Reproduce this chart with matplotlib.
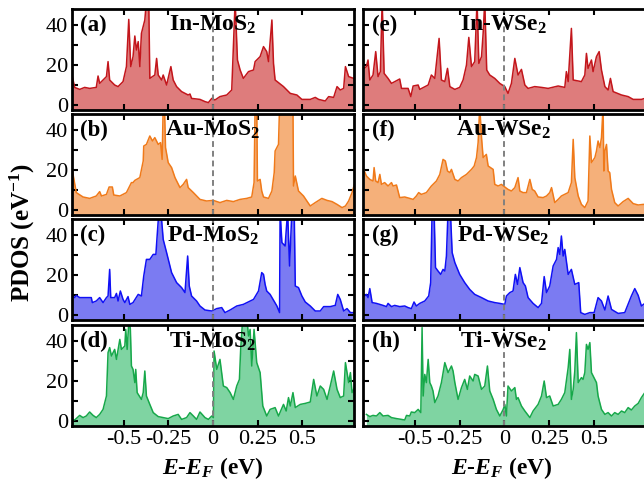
import matplotlib
matplotlib.use("Agg")
import matplotlib.pyplot as plt
from matplotlib.ticker import MultipleLocator, FixedLocator

plt.rcParams['font.family'] = ['Liberation Serif', 'DejaVu Serif']
plt.rcParams['mathtext.fontset'] = 'custom'
plt.rcParams['mathtext.rm'] = 'Liberation Serif'
plt.rcParams['mathtext.it'] = 'Liberation Serif:italic'
plt.rcParams['mathtext.bf'] = 'Liberation Serif:bold'
plt.rcParams['mathtext.bfit'] = 'Liberation Serif:italic:bold'

# ---------------- data (E - E_F in eV, PDOS in eV^-1) ----------------
x_a = [-0.788,-0.775,-0.747,-0.719,-0.691,-0.654,-0.644,-0.635,-0.616,-0.597,-0.588,-0.579,-0.551,-0.532,-0.504,-0.485,-0.472,-0.461,-0.448,-0.438,-0.429,-0.419,-0.41,-0.401,-0.382,-0.373,-0.36,-0.354,-0.326,-0.316,-0.307,-0.288,-0.279,-0.26,-0.236,-0.223,-0.204,-0.176,-0.139,-0.129,-0.12,-0.073,-0.045,-0.026,-0.007,0.011,0.039,0.077,0.105,0.124,0.137,0.152,0.17,0.199,0.227,0.236,0.264,0.283,0.301,0.311,0.33,0.339,0.348,0.395,0.433,0.47,0.498,0.545,0.573,0.592,0.629,0.648,0.676,0.695,0.713,0.732,0.742,0.76,0.788,0.807]
y_a = [14.2,8.8,7.8,8.8,8.3,8.8,14.5,10.8,12.5,14.2,21.7,12.5,10,9.2,11.7,19.2,42.8,19.2,24.2,34.5,27.5,31.7,19.2,35.8,42.5,52,52,13.3,15,23.3,15,12.5,15,10,19.2,12.5,9.2,6.7,5,5.5,3.3,2.8,1.7,1.2,3.3,2.5,4.2,5,7.5,52,22.5,17.5,13.3,16.7,17.5,21.7,24.2,29.2,26.7,21.7,42.5,20.8,12.5,9.2,5.8,5,2.8,2.8,3.8,2.8,2,4.2,3.8,9.2,7.5,8.3,19.2,14.2,13.3,13.8]

x_b = [-0.788,-0.781,-0.766,-0.728,-0.691,-0.654,-0.635,-0.625,-0.597,-0.582,-0.564,-0.556,-0.522,-0.485,-0.457,-0.448,-0.438,-0.41,-0.391,-0.388,-0.373,-0.354,-0.339,-0.326,-0.307,-0.294,-0.285,-0.279,-0.272,-0.266,-0.251,-0.232,-0.213,-0.185,-0.167,-0.148,-0.139,-0.11,-0.073,-0.036,0.002,0.039,0.077,0.114,0.152,0.189,0.217,0.23,0.236,0.245,0.249,0.264,0.273,0.283,0.311,0.33,0.343,0.348,0.367,0.373,0.448,0.451,0.461,0.479,0.507,0.545,0.573,0.61,0.639,0.667,0.695,0.723,0.742,0.76,0.779,0.798]
y_b = [19.8,16.2,8.7,6.5,5.8,7,9.2,7,7.8,11.5,11.5,7.5,7,8.7,13.7,13.7,14.8,16.2,24.5,32,32.8,37,34.5,36.2,32.8,33.7,25.3,52,52,31.2,23.7,21.2,16.2,11.2,12.8,15.3,11.2,8.7,5.3,4.5,4.8,3.7,4.8,4.2,5.3,5.8,6.5,13.7,52,52,14.5,15.3,9.5,6.5,5.8,9.5,18.7,29.5,32.8,52,52,12,17,9.5,7,2,3.7,5.8,4.8,4.2,2.8,1.2,2,4.5,8.7,14.5]

x_c = [-0.788,-0.775,-0.766,-0.747,-0.71,-0.682,-0.676,-0.654,-0.635,-0.616,-0.597,-0.588,-0.579,-0.573,-0.551,-0.541,-0.532,-0.519,-0.504,-0.494,-0.476,-0.466,-0.448,-0.419,-0.401,-0.388,-0.373,-0.354,-0.335,-0.32,-0.313,-0.303,-0.292,-0.279,-0.26,-0.232,-0.204,-0.176,-0.157,-0.142,-0.133,-0.12,-0.092,-0.073,-0.045,-0.007,0.021,0.049,0.067,0.096,0.133,0.17,0.227,0.255,0.273,0.283,0.292,0.301,0.32,0.358,0.373,0.376,0.386,0.404,0.418,0.429,0.442,0.455,0.461,0.479,0.498,0.517,0.545,0.573,0.601,0.62,0.657,0.685,0.699,0.713,0.732,0.751,0.77,0.798]
y_c = [9.8,8.7,9.8,8.7,8.7,8.7,6.2,7,8.7,6.2,8.7,9.5,22.8,8.7,8.7,10.8,7,12,7.8,6.2,9.2,5.3,6.2,10.3,9.5,19.5,27.8,27.8,30.3,30.3,39.5,52,52,37.8,31.2,21.2,16.2,13.7,11.2,29.5,14.5,9.5,7,4.5,2.5,2,3.2,3.7,1.2,2.5,4.5,5.3,7.8,12,21.2,20.3,15.3,12,10.3,4.5,1.2,52,36.2,34.5,52,24.5,52,52,14.5,13.7,9.5,6.5,4.5,2,2,4.2,4.2,4.8,10.3,7.8,2,3.2,1.2,1.2]

x_d = [-0.788,-0.775,-0.747,-0.728,-0.71,-0.691,-0.672,-0.654,-0.635,-0.616,-0.597,-0.588,-0.579,-0.569,-0.551,-0.541,-0.522,-0.513,-0.494,-0.489,-0.481,-0.47,-0.463,-0.457,-0.448,-0.438,-0.433,-0.425,-0.401,-0.391,-0.382,-0.373,-0.354,-0.335,-0.307,-0.279,-0.251,-0.223,-0.195,-0.176,-0.148,-0.129,-0.11,-0.092,-0.073,-0.045,-0.026,-0.007,0.002,0.006,0.021,0.039,0.058,0.077,0.096,0.114,0.133,0.148,0.155,0.167,0.189,0.199,0.208,0.217,0.23,0.245,0.264,0.279,0.301,0.32,0.348,0.367,0.395,0.41,0.423,0.433,0.448,0.461,0.489,0.517,0.545,0.564,0.582,0.601,0.62,0.639,0.657,0.676,0.695,0.713,0.732,0.742,0.76,0.77,0.779,0.798]
y_d = [0.8,0.5,2.8,1.7,2.5,4.5,2.8,1.7,3.3,5.8,12.5,34.2,36.7,32.5,35.8,30.8,40.8,35.8,37.5,45.8,35.8,52,45.8,27.5,25.8,19.2,25.8,14.2,10.8,14.2,25,12.5,8.3,4.2,2.2,1.7,1.2,2.5,3.3,0.8,1.7,4.2,2.5,0.8,4.5,1.7,0.8,2.5,1.7,35,25.8,30.8,17.5,16.7,14.2,10.8,17.5,20.8,35.8,52,52,42.5,45.8,27.5,45.8,29.2,24.2,7.5,2.5,5.8,6.7,2.5,8.3,5,11.7,7.5,14.2,6.7,8.3,8.8,9.5,20.8,12.5,17.5,15.8,10.8,17.5,25,15.8,11.7,12.5,29.2,19.2,24.2,14.2,17.5]

x_e = [-0.784,-0.771,-0.762,-0.752,-0.734,-0.719,-0.706,-0.693,-0.683,-0.672,-0.65,-0.631,-0.585,-0.575,-0.538,-0.523,-0.51,-0.482,-0.473,-0.426,-0.408,-0.389,-0.365,-0.352,-0.333,-0.318,-0.305,-0.277,-0.25,-0.231,-0.212,-0.199,-0.184,-0.166,-0.153,-0.143,-0.128,-0.119,-0.11,-0.099,-0.082,-0.054,-0.026,0.002,0.02,0.039,0.058,0.076,0.095,0.114,0.132,0.169,0.207,0.244,0.3,0.337,0.346,0.356,0.374,0.384,0.43,0.449,0.458,0.467,0.486,0.495,0.514,0.529,0.542,0.561,0.579,0.592,0.607,0.654,0.691,0.719,0.765,0.784,0.805]
y_e = [18.3,19.2,22.5,12.5,15,26.7,14.2,16.7,52,15.8,13.3,10.8,13,8.3,8.3,4.2,9.5,10,7.8,10,15,13.3,33.3,12.5,11.7,18.3,9.2,7.8,8.8,12.5,20,33.8,19.2,21.7,52,20.8,24.2,35.8,52,17.5,15,13.3,10.8,9.2,5.8,10.8,23.3,15,17.8,10,8.3,9.2,8.8,8.3,9.5,8.8,16.7,11.7,38.3,12.5,11.7,15,25.8,18.3,22.5,16.7,24.2,26.7,17.5,9.2,7.5,13.3,6.7,5,4.2,2.8,2.8,3.3,3.3]

x_f = [-0.784,-0.771,-0.752,-0.734,-0.728,-0.719,-0.706,-0.696,-0.687,-0.669,-0.65,-0.631,-0.622,-0.603,-0.585,-0.557,-0.529,-0.51,-0.492,-0.479,-0.464,-0.436,-0.408,-0.38,-0.361,-0.343,-0.33,-0.318,-0.305,-0.296,-0.277,-0.259,-0.24,-0.212,-0.184,-0.169,-0.156,-0.147,-0.138,-0.128,-0.119,-0.101,-0.091,-0.063,-0.054,-0.035,-0.017,0.002,0.02,0.039,0.058,0.076,0.086,0.104,0.123,0.142,0.155,0.169,0.188,0.216,0.235,0.253,0.263,0.281,0.3,0.318,0.356,0.374,0.384,0.393,0.412,0.43,0.449,0.467,0.477,0.486,0.505,0.514,0.523,0.533,0.542,0.551,0.555,0.561,0.57,0.579,0.588,0.598,0.616,0.635,0.663,0.691,0.719,0.747,0.775,0.805]
y_f = [19.8,17,15.3,14.5,21.2,14.5,13.7,17.8,12.8,13.7,12,13.7,12,12.5,6.2,6.5,5.8,5.3,7,8.7,7.8,8.7,12,14.5,17.8,25.3,24.5,19.5,18.7,20.3,15.3,14.5,16.2,17.8,20.3,22,26.2,33.7,52,36.2,26.2,27.8,22,20.3,12.8,12,12.8,11.5,10.3,9.5,11.2,16.2,9.5,8.7,8.7,15.3,10.3,9.5,6.5,6.2,7,8.7,11.2,3.7,5.3,7,8.7,13.7,35.3,16.2,7,2.8,1.2,4.5,37,23.7,26.2,29.5,34.5,31.2,36.2,52,19.5,29.5,32.8,19.5,18.7,10.3,3.7,2,4.2,5.8,3.2,2.5,2.8,2.8]

x_g = [-0.784,-0.771,-0.762,-0.752,-0.739,-0.715,-0.696,-0.678,-0.659,-0.65,-0.631,-0.613,-0.585,-0.557,-0.538,-0.52,-0.505,-0.492,-0.473,-0.445,-0.423,-0.412,-0.404,-0.393,-0.385,-0.371,-0.356,-0.343,-0.333,-0.324,-0.315,-0.302,-0.292,-0.277,-0.25,-0.222,-0.194,-0.166,-0.128,-0.091,-0.054,-0.026,0.002,0.011,0.03,0.048,0.061,0.073,0.086,0.104,0.117,0.132,0.16,0.188,0.207,0.222,0.235,0.253,0.272,0.291,0.3,0.309,0.318,0.328,0.337,0.356,0.374,0.393,0.415,0.426,0.449,0.477,0.501,0.523,0.542,0.561,0.579,0.598,0.635,0.672,0.709,0.728,0.747,0.765,0.784,0.805]
y_g = [9.5,10.3,8.7,13.2,6.2,5.8,5.3,4.8,4.2,5.8,4.2,4.8,4.2,4.5,3.7,3.2,6.5,4.5,5.8,7,9.5,16.2,52,52,23.7,22,20.3,22.8,22,29.5,52,52,31.2,26.2,20.3,16.2,12.8,10.3,8.7,7,6.2,5.8,5.3,9.5,11.2,12,20.3,15.3,23.7,16.2,14.5,8.7,5.8,3.7,5.8,19.2,11.2,14.5,24.5,27.8,33.7,30.3,39.5,29.5,32.8,20.3,22.8,15.3,16.2,1.2,0.3,1.2,1.2,8.7,7,2.5,9.5,2.8,0.8,1.2,9.5,13.2,9.8,4.5,5.8,5.8]

x_h = [-0.771,-0.752,-0.734,-0.715,-0.696,-0.678,-0.65,-0.631,-0.603,-0.575,-0.557,-0.547,-0.529,-0.52,-0.501,-0.482,-0.467,-0.46,-0.454,-0.445,-0.436,-0.426,-0.417,-0.408,-0.399,-0.389,-0.371,-0.352,-0.333,-0.315,-0.296,-0.287,-0.277,-0.259,-0.24,-0.222,-0.207,-0.194,-0.175,-0.166,-0.147,-0.128,-0.11,-0.095,-0.082,-0.063,-0.045,-0.026,-0.007,0.002,0.011,0.02,0.039,0.058,0.067,0.076,0.095,0.114,0.142,0.16,0.188,0.207,0.222,0.235,0.253,0.272,0.3,0.318,0.337,0.356,0.365,0.374,0.384,0.393,0.402,0.412,0.43,0.439,0.449,0.458,0.467,0.477,0.486,0.505,0.514,0.523,0.542,0.561,0.579,0.598,0.616,0.635,0.654,0.672,0.691,0.709,0.728,0.747,0.765,0.784,0.805]
y_h = [3.3,2.2,2.8,2.5,4.2,2.5,2.8,1.7,1.2,0.8,0.5,2.8,2.5,4.5,4.2,5.8,4.2,46.7,12.5,23.3,19.2,30.8,19.2,17.5,15,9.2,12.5,19.2,29.2,24.2,27.5,25,19.2,10.8,16.7,20.8,15.8,22.5,20,23.3,22.5,15.8,17.5,27.5,15,10.8,5.8,2.5,5.8,8.3,2.5,17.5,15,16.7,10.8,11.7,7.5,5,1.7,5,8.3,12.5,20,11.7,12.5,7.5,8.3,10.8,14.2,26.7,35.8,10.8,15.8,25,44.2,19.2,21.7,20.8,24.2,38.3,35.8,39.2,24.2,20.8,19.2,12.5,5.8,3.3,4.2,2.5,4.2,3.3,5,4.2,6.7,5.5,7.5,8.8,11.7,14.2,15.0]

panel_letters = ['(a)', '(b)', '(c)', '(d)', '(e)', '(f)', '(g)', '(h)']
panel_names = [r'In-MoS$_\mathbf{2}$', r'Au-MoS$_\mathbf{2}$', r'Pd-MoS$_\mathbf{2}$', r'Ti-MoS$_\mathbf{2}$',
               r'In-WSe$_\mathbf{2}$', r'Au-WSe$_\mathbf{2}$', r'Pd-WSe$_\mathbf{2}$', r'Ti-WSe$_\mathbf{2}$']
x_ticks = [-0.5, -0.25, 0, 0.25, 0.5]
x_ticklabels = ['-0.5', '-0.25', '0', '0.25', '0.5']
y_ticks = [0, 20, 40]

xs = [x_a, x_b, x_c, x_d, x_e, x_f, x_g, x_h]
ys = [y_a, y_b, y_c, y_d, y_e, y_f, y_g, y_h]

line_colors = ['#c3161c', '#f07a1a', '#1010f5', '#17a84a']
fill_colors = ['#de7c7c', '#f5b07a', '#7b7bf2', '#7fd4a2']

# ---------------- layout ----------------
W, H = 644, 482
fig = plt.figure(figsize=(W / 100, H / 100), dpi=100)
col_left = [72, 363]
col_width = [282, 287]
col_xlim = [(-0.79, 0.79), (-0.79, 0.813)]
row_top = [9, 114, 219, 325]
row_h = 101

for col in range(2):
    for row in range(4):
        i = col * 4 + row
        ax = fig.add_axes([col_left[col] / W, 1 - (row_top[row] + row_h) / H,
                           col_width[col] / W, row_h / H])
        ax.fill_between(xs[i], ys[i], -10, color=fill_colors[row], lw=0)
        ax.plot(xs[i], ys[i], color=line_colors[row], lw=1.1)
        ax.axvline(0, color='#808080', ls=(0, (3, 2)), lw=1.4)
        ax.set_xlim(*col_xlim[col])
        ax.set_ylim(-2.5, 48)
        ax.xaxis.set_major_locator(FixedLocator(x_ticks))
        ax.yaxis.set_major_locator(FixedLocator(y_ticks))
        ax.yaxis.set_minor_locator(MultipleLocator(10))
        ax.tick_params(which='both', direction='in', top=True, right=True,
                       length=4, width=1.5, labelsize=16, pad=3)
        for s in ax.spines.values():
            s.set_linewidth(2)
        if row == 3:
            ax.set_xticklabels(x_ticklabels)
            ax.set_xlabel(r'$\mathbfit{E}$-$\mathbfit{E}_\mathbfit{F}$ (eV)',
                          fontsize=17, fontweight='bold', labelpad=4)
            if col == 1:
                ax.xaxis.label.set_x(0.485)
        else:
            ax.set_xticklabels([])
        if col == 1:
            ax.set_yticklabels([])
        ax.text(0.03, 0.84, panel_letters[i], transform=ax.transAxes,
                fontsize=16.5, fontweight='bold', va='center', ha='left')
        xc = 0.5 if col == 0 else 0.49
        ax.text(xc, 0.84, panel_names[i], transform=ax.transAxes,
                fontsize=17, fontweight='bold', va='center', ha='center')

fig.text(22 / W, 1 - 232 / H, r'PDOS (eV$^\mathbf{-1}$)', rotation=90,
         fontsize=18, fontweight='bold', va='center', ha='center')

fig.savefig('out.png', dpi=100)
